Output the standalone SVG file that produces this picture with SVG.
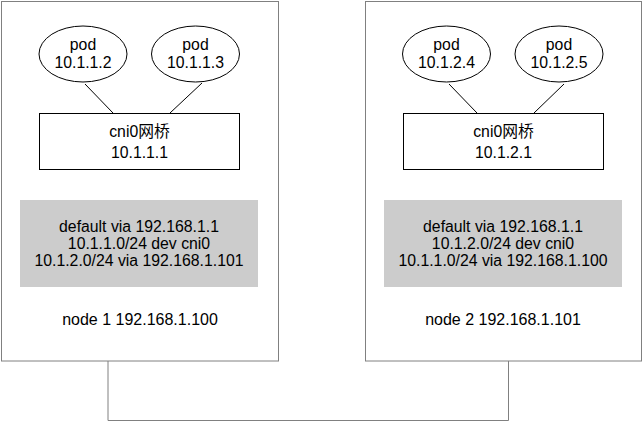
<svg xmlns="http://www.w3.org/2000/svg" width="644" height="425" viewBox="0 0 644 425">
<style>
text{font-family:"Liberation Sans",Arial,"Noto Sans CJK SC",sans-serif;font-size:15.8px;fill:#000;text-anchor:middle}
.nl{font-size:16px}
.outer{fill:#fff;stroke:#808080;stroke-width:1}
.pod{fill:#fff;stroke:#000;stroke-width:1}
.br{fill:#fff;stroke:#000;stroke-width:1}
.rt{fill:#cccccc;stroke:none}
.ln{stroke:#000;stroke-width:1;fill:none}
.link{stroke:#808080;stroke-width:1;fill:none}
</style>
<rect width="644" height="425" fill="#fff"/>
<g id="node1">
<rect class="outer" x="1.5" y="1.5" width="277" height="359.5"/>
<rect class="rt" x="20" y="200" width="238" height="87"/>
<text x="139" y="232">default via 192.168.1.1</text>
<text x="139" y="249">10.1.1.0/24 dev cni0</text>
<text x="139" y="266">10.1.2.0/24 via 192.168.1.101</text>
<text class="nl" x="140" y="325">node 1 192.168.1.100</text>
</g>
<g id="node2">
<rect class="outer" x="365.5" y="1.5" width="276" height="359.5"/>
<rect class="rt" x="384" y="200" width="238" height="87"/>
<text x="503" y="232">default via 192.168.1.1</text>
<text x="503" y="249">10.1.2.0/24 dev cni0</text>
<text x="503" y="266">10.1.1.0/24 via 192.168.1.100</text>
<text class="nl" x="503" y="325">node 2 192.168.1.101</text>
</g>
<g id="connectors">
<line class="ln" x1="85" y1="84" x2="113" y2="113"/>
<line class="ln" x1="202" y1="83" x2="170" y2="113"/>
<line class="ln" x1="449" y1="84" x2="477" y2="113"/>
<line class="ln" x1="564" y1="84" x2="534" y2="113"/>
<polyline class="link" points="108,361 108,420.5 508.5,420.5 508.5,361"/>
</g>
<g id="pod1"><ellipse class="pod" cx="83" cy="54" rx="44" ry="28"/><text x="83" y="50">pod</text><text x="83" y="68">10.1.1.2</text></g>
<g id="pod2"><ellipse class="pod" cx="195.5" cy="54" rx="44" ry="28"/><text x="195.5" y="50">pod</text><text x="195.5" y="68">10.1.1.3</text></g>
<g id="pod3"><ellipse class="pod" cx="446.5" cy="54" rx="44" ry="28"/><text x="446.5" y="50">pod</text><text x="446.5" y="68">10.1.2.4</text></g>
<g id="pod4"><ellipse class="pod" cx="559" cy="54" rx="44" ry="28"/><text x="559" y="50">pod</text><text x="559" y="68">10.1.2.5</text></g>
<g id="bridge1"><rect class="br" x="39.5" y="113.5" width="200" height="56"/><text x="139.5" y="137">cni0网桥</text><text x="139.5" y="158">10.1.1.1</text></g>
<g id="bridge2"><rect class="br" x="403.5" y="113.5" width="200" height="56"/><text x="503.5" y="137">cni0网桥</text><text x="503.5" y="158">10.1.2.1</text></g>
</svg>
